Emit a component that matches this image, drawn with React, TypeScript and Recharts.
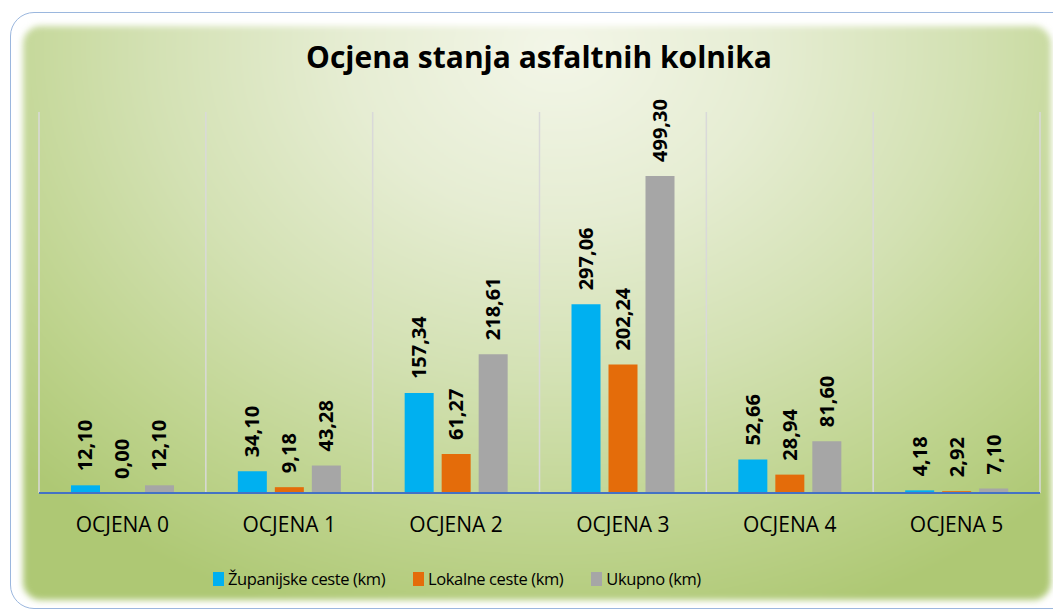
import React from 'react';
import { BarChart, Bar, XAxis, YAxis, CartesianGrid, LabelList } from 'recharts';

const categories = ['OCJENA 0', 'OCJENA 1', 'OCJENA 2', 'OCJENA 3', 'OCJENA 4', 'OCJENA 5'];
const zupanijske = [12.1, 34.1, 157.34, 297.06, 52.66, 4.18];
const lokalne = [0.0, 9.18, 61.27, 202.24, 28.94, 2.92];
const ukupno = [12.1, 43.28, 218.61, 499.3, 81.6, 7.1];

const series = [
    { key: 'zup', name: 'Županijske ceste (km)', color: '#00B0F0', values: zupanijske },
    { key: 'lok', name: 'Lokalne ceste (km)', color: '#E46C0A', values: lokalne },
    { key: 'uk', name: 'Ukupno (km)', color: '#A6A6A6', values: ukupno },
];

const data = categories.map((c, i) => ({
    name: c,
    zup: zupanijske[i],
    lok: lokalne[i],
    uk: ukupno[i],
}));

const FONT = '"Open Sans", sans-serif';

const fmt = (v: number) => Number(v).toFixed(2).replace('.', ',');

function RotatedLabel(props: any) {
    const { x, y, width, value } = props;
    if (x == null || y == null) return null;
    const cx = x + width / 2;
    const ty = y - 14;
    return (
        <text
            x={cx}
            y={ty}
            dy="0.35em"
            textAnchor="start"
            transform={`rotate(-90, ${cx}, ${ty})`}
            fontFamily={FONT}
            fontWeight={700}
            fontSize={20}
            fill="#000"
        >
            {fmt(value)}
        </text>
    );
}

export default function App() {
    return (
        <div style={{ position: 'absolute', left: 0, top: 0, width: 1053, height: 610, overflow: 'hidden', background: '#fff' }}>
            <div
                style={{
                    position: 'absolute',
                    left: 10,
                    top: 12,
                    width: 1070,
                    height: 595,
                    border: '1.5px solid #9bb7de',
                    borderRadius: 24,
                    background: '#fff',
                }}
            />
            <div
                style={{
                    position: 'absolute',
                    left: 23,
                    top: 26,
                    width: 1028,
                    height: 574,
                    borderRadius: 18,
                    filter: 'blur(3px)',
                    background:
                        'radial-gradient(ellipse 72% 105% at 52% 4%, #f3f6e8 0%, #e6edd3 28%, #d3e1b3 55%, #bfd48f 80%, #aec874 100%)',
                }}
            />
            <div
                style={{
                    position: 'absolute',
                    left: 0,
                    width: 1078,
                    top: 36,
                    textAlign: 'center',
                    fontFamily: FONT,
                    fontWeight: 700,
                    fontSize: 30,
                    color: '#000',
                }}
            >
                Ocjena stanja asfaltnih kolnika
            </div>
            <div style={{ position: 'absolute', left: 0, top: 0 }}>
                <BarChart
                    width={1053}
                    height={610}
                    data={data}
                    margin={{ top: 112, right: 13, bottom: 77, left: 39 }}
                    barGap={8}
                    barSize={29}
                >
                    <CartesianGrid
                        horizontal={false}
                        stroke="#d9d9d9"
                        strokeWidth={1.5}
                        verticalCoordinatesGenerator={({ offset }: any) =>
                            categories.map((_, i) => offset.left + (i * offset.width) / categories.length).concat(offset.left + offset.width)
                        }
                    />
                    <XAxis
                        dataKey="name"
                        height={40}
                        tickLine={false}
                        axisLine={{ stroke: '#4472C4', strokeWidth: 2 }}
                        tickMargin={18}
                        tick={{ fontFamily: FONT, fontSize: 21, fill: '#000' }}
                        interval={0}
                    />
                    <YAxis hide domain={[0, 600]} />
                    {series.map((s) => (
                        <Bar key={s.key} dataKey={s.key} name={s.name} fill={s.color} minPointSize={0.1} isAnimationActive={false}>
                            <LabelList dataKey={s.key} content={<RotatedLabel />} />
                        </Bar>
                    ))}
                </BarChart>
            </div>
            <div
                style={{
                    position: 'absolute',
                    left: 213,
                    top: 567,
                    display: 'flex',
                    gap: 28,
                    fontFamily: FONT,
                    fontSize: 16.5,
                    letterSpacing: -0.4,
                    color: '#000',
                    whiteSpace: 'nowrap',
                }}
            >
                {series.map((s) => (
                    <div key={s.key} style={{ display: 'flex', alignItems: 'center' }}>
                        <span style={{ display: 'inline-block', width: 11, height: 14, background: s.color, marginRight: 4 }} />
                        <span>{s.name}</span>
                    </div>
                ))}
            </div>
        </div>
    );
}
